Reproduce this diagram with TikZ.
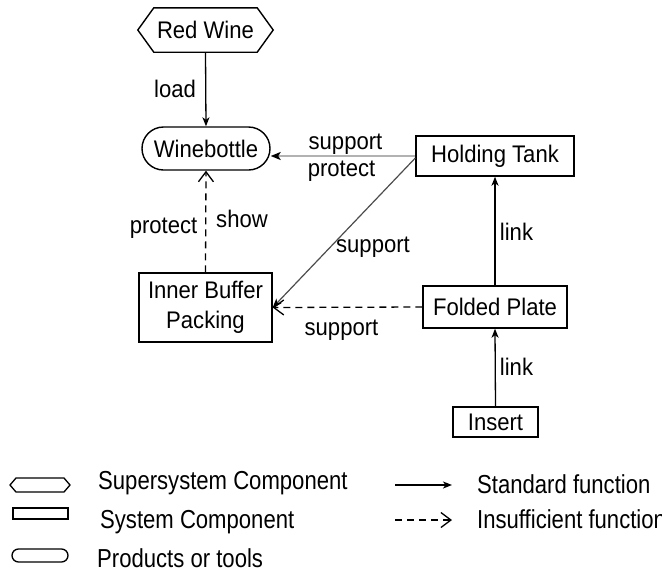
\documentclass[tikz,border=0pt]{standalone}
\usepackage{fontspec}
\setmainfont{Liberation Sans}
\newfontfamily\diagfont[FakeStretch=0.92]{Liberation Sans}
\newfontfamily\legfont[FakeStretch=0.85]{Liberation Sans}
\usetikzlibrary{arrows.meta}

\begin{document}
\begin{tikzpicture}[x=1pt,y=-1pt,
  box/.style={draw, line width=1.4pt, inner sep=0pt,
    font=\diagfont\fontsize{24}{30}\selectfont, align=center},
  lbl/.style={font=\diagfont\fontsize{24}{30}\selectfont, inner sep=0pt, anchor=base},
  leg/.style={font=\legfont\fontsize{26}{30}\selectfont, inner sep=0pt, anchor=base west},
  legshape/.style={line width=1.3pt},
  stdfn/.style={line width=1.3pt, -{Stealth[length=9pt,width=7pt,inset=2.5pt]}},
  insfn/.style={line width=1.3pt, dash pattern=on 7pt off 5pt,
    -{Straight Barb[length=10pt,width=15pt]}},
]
\useasboundingbox (0,0) rectangle (662,571);
\clip (0,0) rectangle (662,571);

% components
\node[inner sep=0pt, minimum width=135pt, minimum height=44pt,
      font=\diagfont\fontsize{24}{30}\selectfont] (rw) at (205.5,30) {Red Wine};
\draw[line width=1.4pt] (rw.west) -- ([xshift=16pt]rw.north west)
  -- ([xshift=-16pt]rw.north east) -- (rw.east)
  -- ([xshift=-16pt]rw.south east) -- ([xshift=16pt]rw.south west) -- cycle;

\node[box, rounded corners=21.5pt, minimum width=128pt, minimum height=43pt]
  (wb) at (206,148.5) {Winebottle};
\node[box, minimum width=158pt, minimum height=40pt] (ht) at (495,156) {Holding Tank};
\node[box, minimum width=133pt, minimum height=69pt] (ibp) at (205.5,307.5) {Inner Buffer\\Packing};
\node[box, minimum width=144pt, minimum height=42pt] (fp) at (495,307) {Folded Plate};
\node[box, minimum width=85pt, minimum height=30pt] (ins) at (495.5,422) {Insert};

% functions
\draw[stdfn] (rw.south) -- (wb.north);
\draw[line width=2.6pt, black!30,
      -{Stealth[length=10pt,width=8pt,inset=2.5pt,black]}]
  (ht.west) -- (ht.west -| wb.east);
\draw[line width=1.2pt, black!70,
      -{Stealth[length=9pt,width=7pt,inset=2.5pt,black]}]
  ([yshift=-2pt]ht.west) -- (ibp.east);
\draw[insfn] (ibp.north) -- (wb.south);
\draw[insfn] (fp.west) -- (ibp.east);
\draw[stdfn] (fp.north) -- (ht.south);
\draw[stdfn] (ins.north) -- (fp.south);

% function labels
\node[lbl] (lload) at (175,97) {load};
\node[lbl] (lsup1) at (345.5,149) {support};
\node[lbl] (lpro1) at (341.5,176) {protect};
\node[lbl] (lpro2) at (163.5,233) {protect};
\node[lbl] (lshow) at (242,227) {show};
\node[lbl] (lsup2) at (373,252) {support};
\node[lbl] (lsup3) at (341.5,335) {support};
\node[lbl] (llink1) at (516.5,240) {link};
\node[lbl] (llink2) at (516.5,375) {link};

% legend
\draw[legshape] (10,485) -- (16,478) -- (64,478) -- (70,485) -- (64,492) -- (16,492) -- cycle;
\draw[legshape] (13,508) rectangle (68,519);
\draw[legshape, rounded corners=6.5pt] (12,549) rectangle (68,562);
\node[leg] (t1) at (98,489) {Supersystem Component};
\node[leg] (t2) at (100,528) {System Component};
\node[leg] (t3) at (97,567) {Products or tools};

\coordinate (la) at (395,485);
\coordinate (lb) at (452,485);
\coordinate (lc) at (395,520);
\coordinate (ld) at (452,520);
\draw[stdfn] (la) -- (lb);
\draw[insfn] (lc) -- (ld);
\node[leg] (t4) at (477,493) {Standard function};
\node[leg] (t5) at (477,528) {Insufficient function};
\end{tikzpicture}
\end{document}
